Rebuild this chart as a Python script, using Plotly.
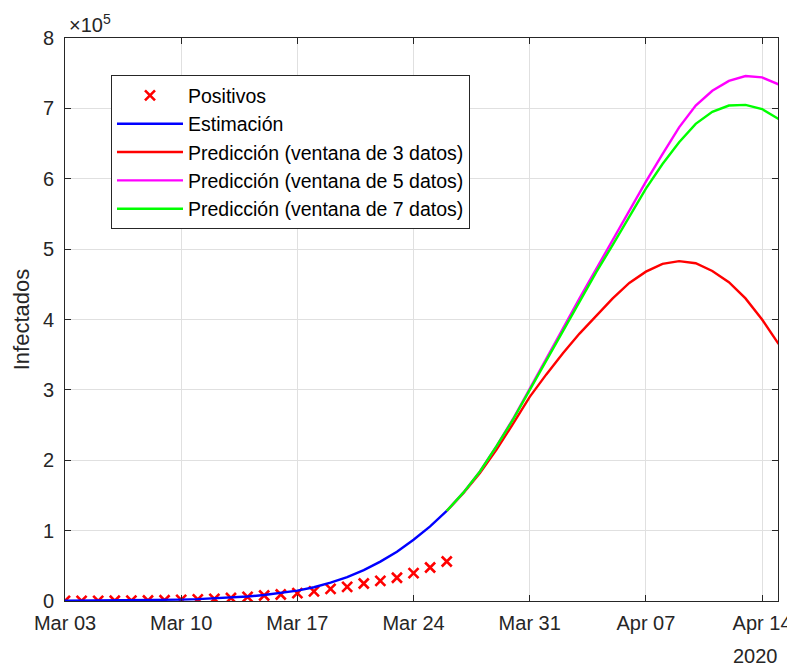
import plotly.graph_objects as go
import pandas as pd

# ---------------- data ----------------
fechas_pos = pd.date_range("2020-03-03", "2020-03-26", freq="D")
positivos = [165, 222, 259, 400, 500, 673, 1073, 1695, 2277, 2950, 4209, 5753,
             7753, 9191, 11178, 13716, 17147, 19980, 24926, 28572, 33089,
             39673, 47610, 56188]

# estimation (units of 1e5)
fechas_est = pd.date_range("2020-03-03", "2020-03-26", freq="D")
estimacion = [0.003, 0.004, 0.005, 0.006, 0.008, 0.011, 0.015, 0.020, 0.027,
              0.036, 0.048, 0.064, 0.085, 0.112, 0.148, 0.195, 0.26, 0.34,
              0.44, 0.56, 0.70, 0.87, 1.06, 1.28]

# predictions (units of 1e5)
fechas_pred = pd.date_range("2020-03-26", "2020-04-15", freq="D")
pred3 = [1.28, 1.53, 1.82, 2.15, 2.52, 2.90, 3.22, 3.52, 3.80, 4.05, 4.30,
         4.52, 4.68, 4.79, 4.83, 4.80, 4.69, 4.53, 4.30, 4.00, 3.65]
pred5 = [1.28, 1.54, 1.84, 2.20, 2.59, 3.01, 3.44, 3.87, 4.30, 4.72, 5.12,
         5.54, 5.96, 6.35, 6.73, 7.04, 7.25, 7.39, 7.46, 7.44, 7.34]
pred7 = [1.28, 1.54, 1.84, 2.20, 2.58, 3.00, 3.42, 3.84, 4.26, 4.67, 5.06,
         5.47, 5.86, 6.21, 6.52, 6.78, 6.95, 7.04, 7.05, 6.99, 6.85]

escala = 1e5
tick_fechas = ["2020-03-03", "2020-03-10", "2020-03-17", "2020-03-24",
               "2020-03-31", "2020-04-07", "2020-04-14"]
tick_y = [0, 1, 2, 3, 4, 5, 6, 7, 8]

# ---------------- figure ----------------
FONT = "Liberation Sans, Arial, sans-serif"
AX = "#262626"
LW = 2.4

fig = go.Figure()
fig.add_trace(go.Scatter(
    x=fechas_pos, y=[v / escala for v in positivos], mode="markers",
    name="Positivos",
    marker=dict(symbol="x-thin", size=10, color="red",
                line=dict(width=2.6, color="red"))))
fig.add_trace(go.Scatter(x=fechas_est, y=estimacion, mode="lines",
                         name="Estimación",
                         line=dict(color="#0000ff", width=LW)))
fig.add_trace(go.Scatter(x=fechas_pred, y=pred3, mode="lines",
                         name="Predicción (ventana de 3 datos)",
                         line=dict(color="#ff0000", width=LW)))
fig.add_trace(go.Scatter(x=fechas_pred, y=pred5, mode="lines",
                         name="Predicción (ventana de 5 datos)",
                         line=dict(color="#ff00ff", width=LW)))
fig.add_trace(go.Scatter(x=fechas_pred, y=pred7, mode="lines",
                         name="Predicción (ventana de 7 datos)",
                         line=dict(color="#00ff00", width=LW)))

fig.update_layout(
    width=795, height=666,
    margin=dict(l=57, r=25, t=29.5, b=72.5, autoexpand=False),
    paper_bgcolor="white", plot_bgcolor="white",
    font=dict(family=FONT, size=20, color=AX),
    showlegend=True,
    legend=dict(x=0.0645, y=0.934, xanchor="left", yanchor="top",
                bgcolor="white", bordercolor=AX, borderwidth=1,
                font=dict(family=FONT, size=19.5, color="#000000"),
                itemwidth=66, tracegroupgap=0),
    xaxis=dict(type="date", range=["2020-03-03", "2020-04-14 23:00"],
               tickvals=tick_fechas, tickformat="%b %d", automargin=False,
               showgrid=True, gridcolor="#e0e0e0", gridwidth=1,
               showline=True, linecolor=AX, linewidth=1, mirror="ticks",
               ticks="inside", ticklen=6, tickcolor=AX,
               ticklabelstandoff=4,
               tickfont=dict(family=FONT, size=20, color=AX),
               zeroline=False),
    yaxis=dict(range=[0, 8], tickvals=tick_y, automargin=False,
               ticktext=[str(v) for v in tick_y],
               showgrid=True, gridcolor="#e0e0e0", gridwidth=1,
               showline=True, linecolor=AX, linewidth=1, mirror="ticks",
               ticks="inside", ticklen=6, tickcolor=AX,
               tickfont=dict(family=FONT, size=20, color=AX),
               ticklabelstandoff=6,
               title=dict(text="Infectados", standoff=7,
                          font=dict(family=FONT, size=22, color=AX)),
               zeroline=False),
)

fig.add_annotation(xref="paper", yref="paper", x=0.003, y=1.0,
                   xanchor="left", yanchor="bottom", showarrow=False,
                   text="×10<sup>5</sup>",
                   font=dict(family=FONT, size=20, color=AX))
fig.add_annotation(xref="paper", yref="paper", x=0.934, y=-0.075,
                   xanchor="left", yanchor="top", showarrow=False,
                   text="2020",
                   font=dict(family=FONT, size=20, color=AX))

fig.write_html("out.html")
